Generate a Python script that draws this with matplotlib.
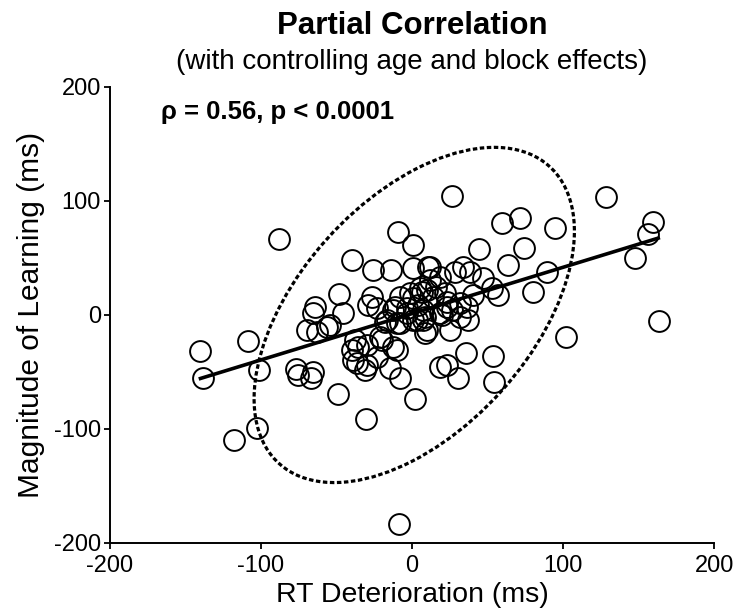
import numpy as np
import matplotlib
matplotlib.use("Agg")
import matplotlib.pyplot as plt
from matplotlib.patches import Ellipse

plt.rcParams['font.family'] = ['Liberation Sans', 'DejaVu Sans']
plt.rcParams['axes.unicode_minus'] = False

# RT deterioration (x, ms) and magnitude of learning (y, ms)
rt_x = [-140, -138.6, -108.4, -101.3, -102.8, -118, -88,
        -76.8, -75.3, -65.3, -66.9,
        -64.2, -65.8, -69.8, -63, -56.5, -48.3, -45.5, -48.8, -40,
        -9, 0.9, -25.6, -14, 0.9, 10.8,
        26.3, 59.4, 71.5, 94.7, 128.5, 159.4, 156.5, 147.7, 163.8, 102,
        89.2, 80, 63.8, 74, 44.4,
        -8, -1.3, 6.4, -3.5, 4.2, -11.3, -12.4, 0.9, -3.5, -16.8, -8, 0.9,
        3.1, 8.6, 19.6, 23, 31.8, 31.8, 18.5, 14.1, 9.7, 16.1, 21.9, 11.9,
        18.5, 23, 5.3, 7.5, 7.5, 26.3, 36.2, 37.3, 25.2, 9.7, 8.6, 28.5,
        34, 38.4, 47.2, 52.8, 57.2, 40.6, 11.9,
        -37.7, -35.5, -40, -30, -20, -10, -36.6, -30, -23.4, -14.6, -38.9,
        -31.1, -21.2, -12.4, -10, -17.9, -54.3, -8, 2, -30.7, -8.6, 18.5,
        -26.7, -28.9, -23.4,
        23, 36, 53.6, 30.5, 54]
learn_y = [-32, -55, -23, -48, -99, -110, 67,
           -47.8, -52.7, -49.8, -55.7,
           7.3, 1.5, -13.2, -14.6, -10.3, 18.2, 1.5, -69.5, 48.4,
           72.4, 61.5, 39, 39.6, 41, 42,
           104.6, 80.6, 85, 76.2, 103.5, 81.2, 71.2, 49.8, -5, -19,
           38, 20.5, 44, 58.6, 57.7,
           16, 19, 20.5, 5.9, 8.8, 7.3, 4.4, 14.7, 1.5, -4.4, -7.3, -4.4,
           -4.4, -1.5, 0, 7.3, 10.3, -1.5, 1.5, 16, 22, 24.9, 19, 30.8,
           33.7, 11.7, 23.5, 4.4, -4.4, 4.4, 7.3, -4.4, -13.2, -13.2, -16, 38,
           42.5, 38, 32.3, 23.5, 17.6, 17.6, 42.5,
           -22, -27.8, -30.8, -26.4, -22, -30.8, -42.5, -44, -36.6, -46.9, -39.6,
           -48.4, -19, -27.8, -7.3, -5.9, -8.8, -55.7, -73.8, -91.4, -183, -45.4,
           16, 8.8, 5.9,
           -44, -33, -36, -55, -59]

# regression line end points
fit_x = [-140, 163]
fit_y = [-55.7, 67.4]

# confidence ellipse: half extents in x and y, and correlation
ell_sx = 106
ell_sy = 147
ell_r = 0.5

x_ticks = [-200, -100, 0, 100, 200]
y_ticks = [-200, -100, 0, 100, 200]

fig = plt.figure(figsize=(7.37, 6.13), dpi=100)
ax = fig.add_axes([0.149, 0.1142, 0.820, 0.744])

ax.plot(rt_x, learn_y, 'o', ms=15, mfc='none', mec='black', mew=1.4, zorder=3)
ax.plot(fit_x, fit_y, '-', color='black', lw=2.6, zorder=4)

cov = np.array([[ell_sx**2, ell_r*ell_sx*ell_sy], [ell_r*ell_sx*ell_sy, ell_sy**2]])
vals, vecs = np.linalg.eigh(cov)
order = vals.argsort()[::-1]
vals, vecs = vals[order], vecs[:, order]
angle = np.degrees(np.arctan2(vecs[1, 0], vecs[0, 0]))
ell = Ellipse((1.5, 0), 2*np.sqrt(vals[0]), 2*np.sqrt(vals[1]), angle=angle,
              fill=False, edgecolor='black', lw=2.3, linestyle=(0, (1.4, 0.8)), zorder=2)
ax.add_patch(ell)

ax.set_xlim(-200, 200)
ax.set_ylim(-200, 200)
ax.set_xticks(x_ticks)
ax.set_yticks(y_ticks)
for s in ['top', 'right']:
    ax.spines[s].set_visible(False)
for s in ['left', 'bottom']:
    ax.spines[s].set_linewidth(1.4)
ax.tick_params(direction='out', length=4.5, width=1.3, labelsize=17, pad=2)
ax.tick_params(axis='x', pad=4)
ax.set_xlabel('RT Deterioration (ms)', fontsize=20.5, labelpad=4)
ax.set_ylabel('Magnitude of Learning (ms)', fontsize=21.5, labelpad=6)

ax.text(-166, 172, 'ρ = 0.56, p < 0.0001', fontsize=18.5, fontweight='bold', va='baseline')

fig.text(0.559, 0.945, 'Partial Correlation', fontsize=22.5, fontweight='bold',
         ha='center', va='baseline')
fig.text(0.559, 0.887, '(with controlling age and block effects)', fontsize=20,
         ha='center', va='baseline')

fig.savefig('out.png', dpi=100)
